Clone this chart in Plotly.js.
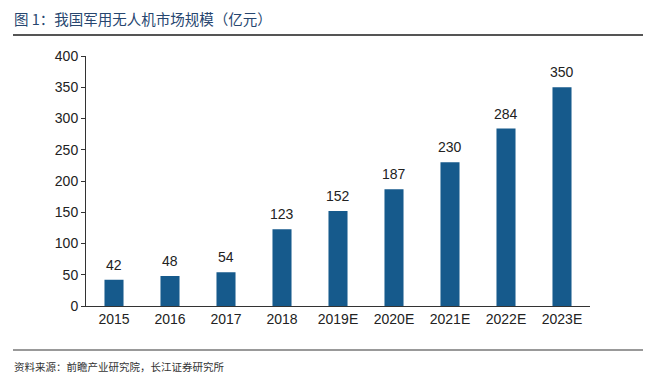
<!DOCTYPE html>
<html>
<head>
<meta charset="utf-8">
<script src="https://cdn.plot.ly/plotly-3.0.1.min.js"></script>
<style>html,body{margin:0;padding:0;background:#fff;}#chart{width:650px;height:380px;}</style>
</head>
<body>
<div id="chart"></div>
<script>
const categories = ["2015","2016","2017","2018","2019E","2020E","2021E","2022E","2023E"];
const values = [42,48,54,123,152,187,230,284,350];
const yTicks = [0,50,100,150,200,250,300,350,400];
const titleText = "图 1：我国军用无人机市场规模（亿元）";
const sourceText = "资料来源：前瞻产业研究院，长江证券研究所";

const L = 86, R = 590, T = 56, B = 306;
const pw = R - L, ph = B - T;
const px = x => (x - L) / pw;
const py = y => (B - y) / ph;

const trace = {
  type: "bar",
  x: categories,
  y: values,
  marker: {color: "#165a8c"},
  cliponaxis: false,
  hoverinfo: "none"
};

// value labels placed at category index (position on category axis)
const valueLabels = categories.map((c, i) => ({
  x: i, y: values[i], xref: "x", yref: "y",
  text: String(values[i]), showarrow: false,
  xanchor: "center", yanchor: "bottom", yshift: 5,
  font: {family: "Liberation Sans, Arial, sans-serif", size: 14, color: "#222"}
}));

const layout = {
  width: 650, height: 380,
  margin: {l: L, r: 650 - R, t: T, b: 380 - B},
  paper_bgcolor: "#fff", plot_bgcolor: "#fff",
  showlegend: false,
  bargap: 0.66,
  font: {family: "Liberation Sans, Arial, sans-serif", size: 14, color: "#222"},
  xaxis: {
    type: "category",
    categoryorder: "array", categoryarray: categories,
    showline: true, linecolor: "#333", linewidth: 1,
    ticks: "", showgrid: false, zeroline: false,
    tickfont: {size: 14, color: "#222"}
  },
  yaxis: {
    range: [0, 400], tickvals: yTicks,
    showline: true, linecolor: "#333", linewidth: 1,
    ticks: "outside", ticklen: 4, tickcolor: "#333",
    showgrid: false, zeroline: false,
    tickfont: {size: 14, color: "#222"}
  },
  shapes: [
    {type: "line", xref: "paper", yref: "paper", x0: px(13), x1: px(643), y0: py(35), y1: py(35), line: {color: "#555", width: 2}},
    {type: "line", xref: "paper", yref: "paper", x0: px(13), x1: px(643), y0: py(350), y1: py(350), line: {color: "#999", width: 2}}
  ],
  annotations: valueLabels.concat([
    {text: titleText, xref: "paper", yref: "paper", x: px(12), y: py(18), xanchor: "left", yanchor: "middle", showarrow: false,
     font: {family: "Noto Sans CJK SC, sans-serif", size: 14.5, color: "#27466f"}},
    {text: sourceText, xref: "paper", yref: "paper", x: px(12), y: py(366), xanchor: "left", yanchor: "middle", showarrow: false,
     font: {family: "Noto Sans CJK SC, sans-serif", size: 10.5, color: "#333"}}
  ])
};

Plotly.newPlot("chart", [trace], layout, {displayModeBar: false, staticPlot: true});
</script>
</body>
</html>
